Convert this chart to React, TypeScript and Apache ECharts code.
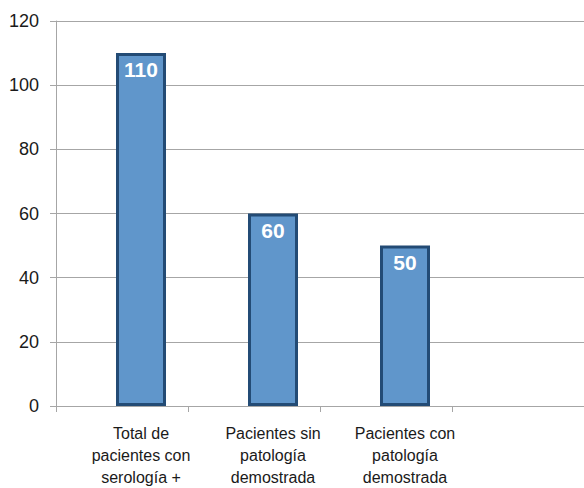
import React, { useEffect, useRef } from "react";
import * as echarts from "echarts";

const categories = [
  "Total de\npacientes con\nserología +",
  "Pacientes sin\npatología\ndemostrada",
  "Pacientes con\npatología\ndemostrada",
  "",
];
const values = [110, 60, 50, null];
const emptyValues = [null, null, null, null];
const yTicks = { min: 0, max: 120, interval: 20 };

export default function App() {
  const ref = useRef<HTMLDivElement>(null);
  useEffect(() => {
    if (!ref.current) return;
    const chart = echarts.init(ref.current, undefined, { renderer: "svg" });
    const font = "'Liberation Sans Narrow', 'Arial Narrow', 'Liberation Sans', Arial, sans-serif";
    chart.setOption({
      animation: false,
      backgroundColor: "#ffffff",
      grid: { left: 56, right: -4, top: 21, bottom: 82, containLabel: false },
      xAxis: {
        type: "category",
        data: categories,
        axisLine: { show: true, lineStyle: { color: "#a6a6a6", width: 1 } },
        axisTick: { show: true, length: 6, lineStyle: { color: "#a6a6a6" } },
        axisLabel: {
          interval: 0,
          color: "#1a1a1a",
          fontFamily: font,
          fontSize: 16,
          lineHeight: 22,
          margin: 16,
          padding: [0, 0, 0, 38],
        },
        splitLine: { show: false },
      },
      yAxis: {
        type: "value",
        min: yTicks.min,
        max: yTicks.max,
        interval: yTicks.interval,
        axisLine: { show: true, lineStyle: { color: "#a6a6a6", width: 1 } },
        axisTick: { show: true, length: 6, lineStyle: { color: "#a6a6a6" } },
        axisLabel: {
          color: "#1a1a1a",
          fontFamily: font,
          fontSize: 18,
          margin: 17,
        },
        splitLine: { show: true, lineStyle: { color: "#a6a6a6", width: 1 } },
      },
      series: [
        {
          type: "bar",
          data: emptyValues,
          barWidth: 38,
          barGap: 0,
          silent: true,
        },
        {
          type: "bar",
          data: values,
          barWidth: 50,
          barGap: 0,
          itemStyle: {
            color: "#6096cb",
            borderColor: "#234b75",
            borderWidth: 3,
          },
          label: {
            show: true,
            position: "insideTop",
            distance: 6,
            color: "#ffffff",
            fontFamily: "'Liberation Sans', Arial, sans-serif",
            fontWeight: "bold",
            fontSize: 21,
          },
        },
      ],
    });
    return () => chart.dispose();
  }, []);
  return (
    <div
      ref={ref}
      style={{ position: "fixed", left: 0, top: 0, width: 584, height: 488 }}
    />
  );
}
